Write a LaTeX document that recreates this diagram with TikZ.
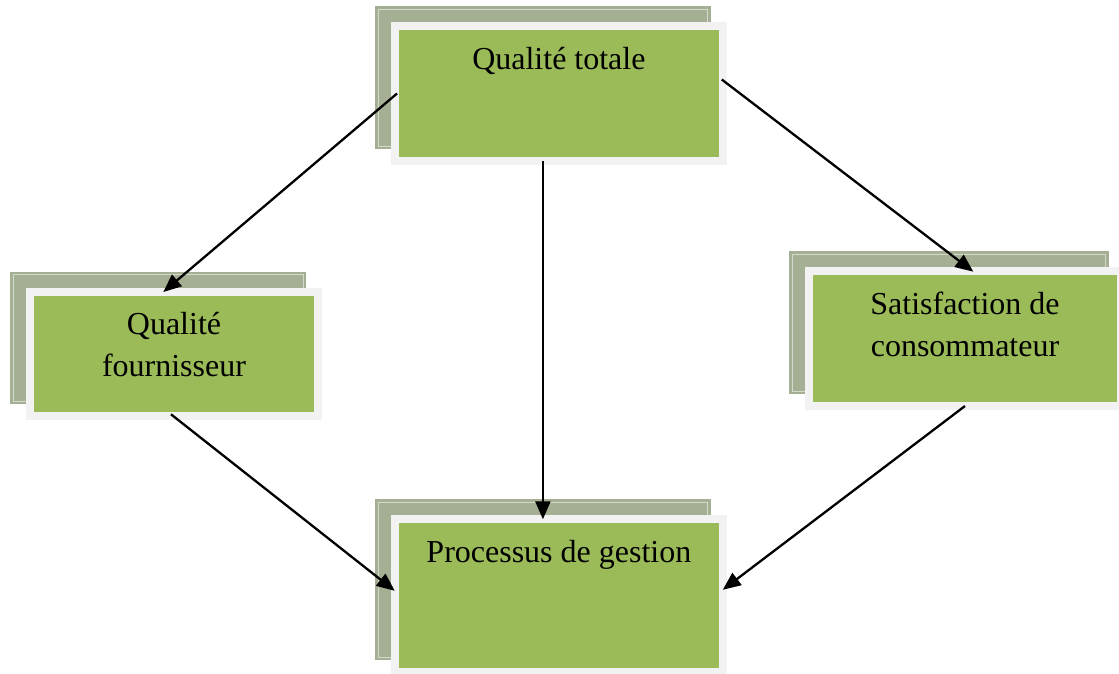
\documentclass[tikz,border=0pt]{standalone}
\usepackage{fontspec}
\setmainfont{Liberation Serif}
\usetikzlibrary{arrows.meta,calc,backgrounds}

\definecolor{boxgreen}{HTML}{9BBB59}
\definecolor{framegray}{HTML}{F2F2F2}
\definecolor{shadowgreen}{HTML}{A5AF93}
\definecolor{shadowline}{HTML}{D4DACB}

% fixed-size box body, text set at the top
\newcommand{\boxbody}[3]{\parbox[c][#2pt][t]{#1pt}{\centering\rule{0pt}{43pt}#3}}

\tikzset{
  greenbox/.style={draw=framegray, line width=8pt, fill=boxgreen,
    inner sep=0pt, outer sep=4pt, font=\fontsize{32}{42}\selectfont},
  link/.style={line width=2.3pt, -{Triangle[length=18pt,width=15pt]}},
}

\begin{document}
\begin{tikzpicture}[x=1pt,y=-1pt]
\useasboundingbox (0,0) rectangle (1119,673);

\node[greenbox] (qtot)  at (558.9,93.5)  {\boxbody{327.7}{135}{Qualité totale}};
\node[greenbox] (qfour) at (174,354)     {\boxbody{288}{124.6}{Qualité\\fournisseur}};
\node[greenbox] (satis) at (965,338.65)  {\boxbody{311.4}{134.7}{Satisfaction de\\consommateur}};
\node[greenbox] (proc)  at (558.9,595.8) {\boxbody{327.7}{153}{Processus de gestion}};

% offset shadow plates behind each box
\begin{scope}[on background layer]
  \foreach \n in {qtot,qfour,satis,proc} {
    \fill[shadowgreen] ($(\n.north west)+(-16,-16)$) rectangle ($(\n.south east)+(-16,-16)$);
    \draw[shadowline, line width=1pt] ($(\n.north west)+(-13,-13)$) rectangle ($(\n.south east)+(-19,-19)$);
  }
\end{scope}

\draw[link] ($(qtot.west)+(6,0)$) -- ($(qfour.north)+(-10.7,4.3)$);
\draw[link] ($(qtot.south)+(-16,-4)$) -- ($(proc.north)+(-16,4)$);
\draw[link] ($(qtot.east)+(-5,-14)$) -- ($(satis.north)+(8.3,4.4)$);
\draw[link] ($(qfour.south)+(-3,-6)$) -- ($(proc.west)+(3.7,-5)$);
\draw[link] ($(satis.south)+(0,-4)$) -- ($(proc.east)+(-4,-6)$);
\end{tikzpicture}
\end{document}
